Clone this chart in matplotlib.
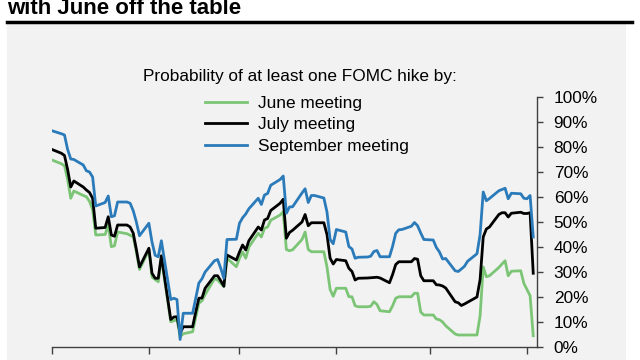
import matplotlib
matplotlib.use("Agg")
import matplotlib.pyplot as plt
import matplotlib.dates as mdates
from matplotlib.lines import Line2D
from matplotlib.patches import Rectangle
import pandas as pd

plt.rcParams['font.family'] = ['Liberation Sans', 'DejaVu Sans']

dates = pd.bdate_range("2016-01-01", "2016-06-03")

june = [
    74.8, 73.3, 72.5, 67, 59.5, 62.4, 60.6, 60.1, 58.3, 55, 44.8, 45, 48.8, 40.1, 40.5, 46, 45.3, 44.7, 44.1, 38, 31,
    38.8, 28, 27, 26.1, 35.8, 10.1, 10.5, 11, 4.1, 5.3, 6.1, 12, 17.5, 18.5, 21, 27.3, 26.8, 25.5, 24.2, 35.5, 32.1,
    35.5, 38, 35.5, 40, 45.5, 44, 47.5, 48, 50.7, 52.8, 54.1, 39, 38.5, 38.9, 43, 46, 39, 38.1, 38.1, 38.1, 32, 23, 20.3,
    23.5, 23.5, 20.1, 20.1, 16.5, 16.1, 16.1, 16.3, 18.1, 17, 14.5, 14.1, 16.5, 19.5, 20.1, 20.1, 20.1, 21.5, 21.5, 14, 12.8,
    12.8, 11.2, 10.9, 10, 8.5, 5.2, 4.8, 4.8, 4.8, 4.8, 4.8, 12.5, 32, 28.1, 28.5, 31.8, 33.2, 34.5, 28.5, 30.3, 30.5, 25.5,
    23, 20.5, 4.5,
]
july = [
    79, 77.5, 76.6, 71, 64, 66.4, 64, 62.8, 61.8, 59.5, 47.5, 47.8, 52.1, 44.8, 44.3, 48.8, 48.8, 48, 45.5, 39, 32,
    39.5, 29.5, 27.5, 27.5, 36.5, 11, 12, 12.1, 5.5, 8.1, 8.1, 14, 19.5, 19.6, 23.5, 28.5, 28.5, 26.5, 24.3, 36.8, 34.8,
    38, 40.8, 38.8, 42.5, 48, 46.8, 50.8, 51.4, 54.6, 57.5, 59.1, 43.5, 45.8, 46.7, 50, 53, 48.5, 49.7, 49.7, 49.7, 45, 35.5, 33.2,
    35, 34.5, 31.5, 30.2, 26.8, 27.5, 27.6, 27.7, 27.8, 27.9, 27.6, 25.7, 29, 33, 34.1, 34.1, 34.1, 35.4, 35.1, 28.5, 26.5,
    26.5, 24.9, 24.8, 24.4, 23.6, 18.1, 17.7, 16.6, 17.2, 17.9, 20, 27, 44, 47.2, 48, 53, 53.7, 53.7, 52, 53.5, 53.9, 53.4,
    53.4, 53.7, 29.5,
]
september = [
    86.5, 85.3, 84.8, 79, 75.2, 75, 72.8, 70.5, 70, 68, 56.4, 57.8, 60.4, 52.1, 52.5, 58, 58, 57.5, 54.5, 50, 44.5,
    49.5, 42, 36.7, 36.1, 42.5, 19, 19.5, 19, 3, 13.5, 13.5, 19.5, 25.6, 27.3, 30, 34.5, 35, 31.5, 27.5, 43, 43.1,
    49.5, 51.7, 53.2, 55.3, 59.5, 57, 60.8, 61.4, 64.7, 67, 68.4, 53.5, 56, 56.1, 61.6, 63.3, 57.8, 60.6, 60.6, 59.6, 54, 43, 41.3,
    47, 46, 40.2, 39.2, 35.5, 35.9, 36, 36.3, 38.2, 38.6, 36.1, 36.1, 40.3, 45.5, 46.9, 47, 48.3, 49.8, 48.5, 45.6, 43,
    42.8, 39.8, 38, 35.2, 35.4, 30.5, 30.2, 31.2, 32.3, 34.3, 37.3, 45, 62, 58.5, 59.4, 62.5, 63, 63.5, 59.3, 61.5, 61.3, 59.5,
    59.3, 60.6, 44,
]
series_labels = ["June meeting", "July meeting", "September meeting"]
y_ticks = list(range(0, 101, 10))
title = "with June off the table"
legend_title = "Probability of at least one FOMC hike by:"

W, H = 640, 360
fig = plt.figure(figsize=(6.4, 3.6), dpi=100)

# gray panel
fig.patches.append(Rectangle((7 / W, 0), (626 - 7) / W, (H - 24) / H,
                             transform=fig.transFigure, facecolor='#f2f2f2',
                             edgecolor='none', zorder=-10))
# black rule under title
fig.lines.append(Line2D([7 / W, 632 / W], [1 - 22.3 / H, 1 - 22.3 / H],
                        transform=fig.transFigure, color='black', lw=2.5, zorder=-5))
fig.text(7 / W, 1 - 14 / H, title, fontsize=16, fontweight='bold',
         ha='left', va='baseline', color='black')

ax = fig.add_axes([52 / W, 13 / H, (537 - 52) / W, 250 / H])
ax.set_facecolor('none')
ax.set_zorder(2)

l1, = ax.plot(dates, june, color='#7cc576', lw=2.0, zorder=3)
l2, = ax.plot(dates, july, color='black', lw=2.0, zorder=4)
l3, = ax.plot(dates, september, color='#2b7bba', lw=2.0, zorder=5)

ax.set_ylim(0, 100)
ax.set_xlim(pd.Timestamp("2016-01-01"), pd.Timestamp("2016-06-04 05:00"))
ax.set_yticks(y_ticks)
ax.set_yticklabels([f"{v}%" for v in y_ticks])
ax.yaxis.tick_right()
ax.xaxis.set_major_locator(mdates.MonthLocator())
ax.set_xticklabels([])
for s in ['left', 'top']:
    ax.spines[s].set_visible(False)
for s in ['right', 'bottom']:
    ax.spines[s].set_color('#404040')
    ax.spines[s].set_linewidth(1.0)
ax.tick_params(axis='y', direction='out', length=4, width=1, color='#404040',
               pad=8, labelsize=12.4, labelcolor='black')
ax.tick_params(axis='x', direction='out', length=5, width=1, color='#404040')

fig.text(300 / W, 1 - 76 / H, legend_title, fontsize=12.4, ha='center', va='center')
leg = ax.legend([l1, l2, l3], series_labels, loc='upper left',
                bbox_to_anchor=(205 / W, 1 - 95.5 / H), bbox_transform=fig.transFigure,
                frameon=False, fontsize=12.4, handlelength=2.45, handletextpad=0.6,
                labelspacing=0.4, borderpad=0, borderaxespad=0)

fig.savefig("out.png", dpi=100)
